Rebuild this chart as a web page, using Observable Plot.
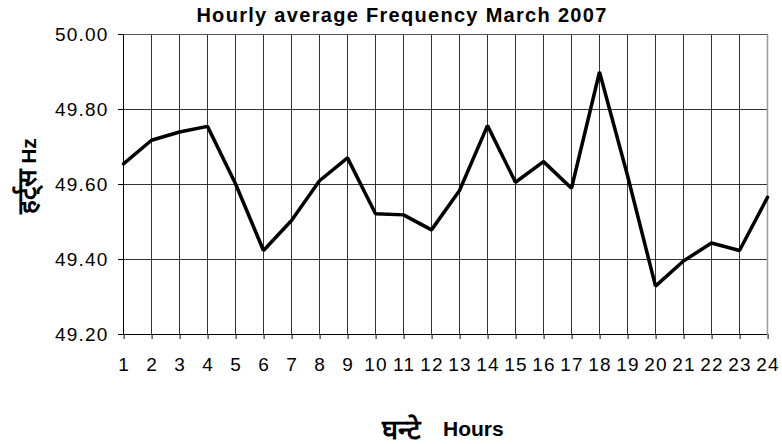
<!DOCTYPE html>
<html>
<head>
<meta charset="utf-8">
<script src="https://cdn.jsdelivr.net/npm/d3@7"></script>
<script src="https://cdn.jsdelivr.net/npm/@observablehq/plot@0.6"></script>
<style>
  html, body { margin: 0; padding: 0; background: white; }
  #wrap { position: relative; width: 782px; height: 444px; font-family: "Liberation Sans", Arial, sans-serif; color: #000; }
  #wrap svg { position: absolute; left: 0; top: 0; }
  .title { position: absolute; left: 0; width: 804px; top: 4px; text-align: center; font-weight: bold; font-size: 20px; letter-spacing: 1.3px; line-height: 22px; white-space: nowrap; }
  .xhi { position: absolute; left: 382px; top: 415px; font-weight: bold; font-size: 27px; line-height: 30px; white-space: nowrap; }
  .xen { position: absolute; left: 443px; top: 418px; font-weight: bold; font-size: 21px; line-height: 21px; white-space: nowrap; }
  .ylab { position: absolute; left: 26px; top: 176px; transform: translate(-50%, -50%) rotate(-90deg); font-weight: bold; white-space: nowrap; display: flex; align-items: baseline; gap: 5px; }
  .ylab .hi { font-size: 26px; }
  .ylab .en { font-size: 21px; }
</style>
</head>
<body>
<div id="wrap">
  <div class="title">Hourly average Frequency March 2007</div>
  <div class="ylab"><span class="hi">हर्ट्स</span><span class="en">Hz</span></div>
  <div class="xhi">घन्टे</div>
  <div class="xen">Hours</div>
</div>
<script>
const hours = [1,2,3,4,5,6,7,8,9,10,11,12,13,14,15,16,17,18,19,20,21,22,23,24];
const freq = [49.655,49.718,49.740,49.755,49.602,49.424,49.504,49.610,49.671,49.522,49.519,49.479,49.584,49.757,49.606,49.661,49.590,49.900,49.624,49.329,49.396,49.444,49.424,49.566];
const yTicks = [49.2,49.4,49.6,49.8,50.0];

const data = hours.map((h, i) => ({hour: h, freq: freq[i]}));

const chart = Plot.plot({
  width: 782,
  height: 444,
  marginLeft: 123,
  marginRight: 15,
  marginTop: 34,
  marginBottom: 110,
  style: {fontFamily: "'Liberation Sans', Arial, sans-serif", fontSize: "19px", letterSpacing: "1.2px", color: "#000", background: "transparent", overflow: "visible"},
  x: {domain: [1, 24]},
  y: {domain: [49.2, 50.0]},
  marks: [
    Plot.gridX(hours, {stroke: "#000", strokeOpacity: 0.8, strokeWidth: 1}),
    Plot.gridY(yTicks, {stroke: "#000", strokeOpacity: 0.8, strokeWidth: 1}),
    Plot.ruleX([24], {stroke: "#999", strokeWidth: 1.5}),
    Plot.ruleY([50.0], {stroke: "#555", strokeWidth: 1}),
    Plot.axisY(yTicks, {tickSize: 5, tickPadding: 10, fontSize: 19, tickFormat: d => d.toFixed(2), label: null, stroke: "#000"}),
    Plot.axisX(hours, {tickSize: 5, tickPadding: 18, fontSize: 19, dx: 0.6, tickFormat: d => String(d), label: null, stroke: "#000"}),
    Plot.ruleX([1], {stroke: "#000", strokeWidth: 1}),
    Plot.ruleY([49.2], {stroke: "#000", strokeWidth: 1}),
    Plot.line(data, {x: "hour", y: "freq", stroke: "#000", strokeWidth: 3.5, strokeLinejoin: "miter"})
  ]
});
document.getElementById("wrap").prepend(chart);
</script>
</body>
</html>
